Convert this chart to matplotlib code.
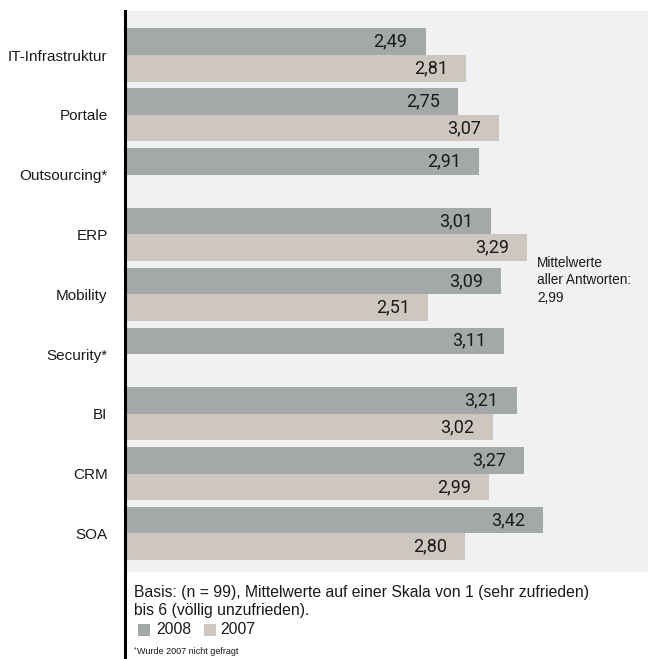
import matplotlib
matplotlib.use("Agg")
import matplotlib.pyplot as plt
from matplotlib.patches import Rectangle
from matplotlib.lines import Line2D
import numpy as np

categories = ["IT-Infrastruktur", "Portale", "Outsourcing*", "ERP", "Mobility",
              "Security*", "BI", "CRM", "SOA"]
values_2008 = [2.49, 2.75, 2.91, 3.01, 3.09, 3.11, 3.21, 3.27, 3.42]
values_2007 = [2.81, 3.07, None, 3.29, 2.51, None, 3.02, 2.99, 2.80]
series_labels = ["2008", "2007"]

c2008 = "#a3a9a8"
c2007 = "#cec7bf"
panel = "#f0f1f0"

W, H = 651, 659
fig = plt.figure(figsize=(W / 100, H / 100), dpi=100)
fig.patch.set_facecolor("white")

def fx(px):
    return px / W

def fy(py):
    return 1 - py / H

ax = fig.add_axes([fx(127), fy(572), fx(648) - fx(127), fy(11) - fy(572)])
ax.set_facecolor(panel)
for s in ax.spines.values():
    s.set_visible(False)

h = 0.444
y = np.arange(len(categories))
for i, (v8, v7) in enumerate(zip(values_2008, values_2007)):
    ax.barh(i - h / 2, v8, height=h, color=c2008, linewidth=0)
    ax.annotate(f"{v8:.2f}".replace(".", ","), xy=(v8, i - h / 2), xytext=(-18, 0),
                textcoords="offset pixels", ha="right", va="center",
                fontsize=13, family="Roboto", color="#1a1a1a")
    if v7 is not None:
        ax.barh(i + h / 2, v7, height=h, color=c2007, linewidth=0)
        ax.annotate(f"{v7:.2f}".replace(".", ","), xy=(v7, i + h / 2), xytext=(-18, 0),
                    textcoords="offset pixels", ha="right", va="center",
                    fontsize=13, family="Roboto", color="#1a1a1a")

ax.set_xlim(0.127, 4.25)
ax.set_ylim(8.644, -0.736)
ax.set_xticks([])
ax.set_yticks(y)
ax.set_yticklabels(categories, fontsize=11, family="Liberation Sans", color="#1a1a1a")
ax.tick_params(axis="y", length=0, pad=14)

fig.text(fx(537), fy(256), "Mittelwerte\naller Antworten:\n2,99", ha="left", va="top",
         fontsize=9.8, family="Liberation Sans", color="#1a1a1a", linespacing=1.3)

# vertical black axis line
fig.add_artist(Line2D([fx(125.3), fx(125.3)], [0, fy(11)], color="black", lw=2.2,
                      transform=fig.transFigure))

fig.text(fx(134), fy(593), "Basis: (n = 99), Mittelwerte auf einer Skala von 1 (sehr zufrieden)",
         ha="left", va="center", fontsize=11.3, family="Liberation Sans", color="#1a1a1a")
fig.text(fx(134), fy(611), "bis 6 (völlig unzufrieden).",
         ha="left", va="center", fontsize=11.3, family="Liberation Sans", color="#1a1a1a")

# legend
for (x0, tx, col, lab) in [(138, 156, c2008, series_labels[0]), (204, 220, c2007, series_labels[1])]:
    fig.add_artist(Rectangle((fx(x0), fy(636)), fx(12), 12 / H, color=col,
                             transform=fig.transFigure, linewidth=0))
    fig.text(fx(tx), fy(630), lab, ha="left", va="center", fontsize=11.3,
             family="Liberation Sans", color="#1a1a1a")

fig.text(fx(134), fy(650), "*", ha="left", va="center", fontsize=5,
         family="Liberation Sans", color="#1a1a1a")
fig.text(fx(137), fy(651), "Wurde 2007 nicht gefragt", ha="left", va="center", fontsize=6.5,
         family="Liberation Sans", color="#1a1a1a")

fig.savefig("out.png", dpi=100, facecolor="white")
